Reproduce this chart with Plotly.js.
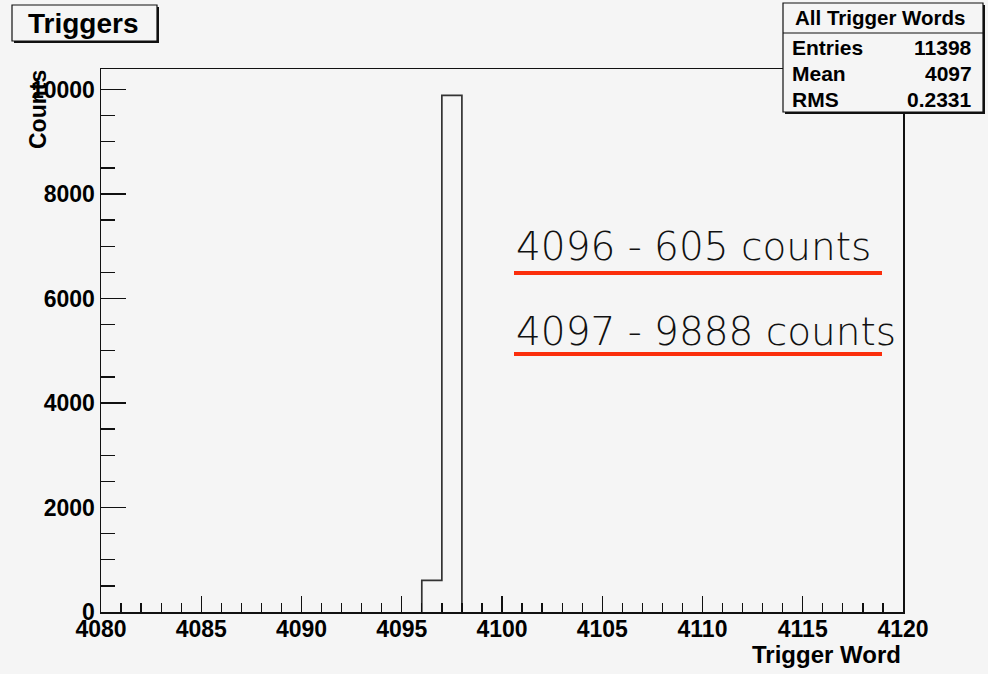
<!DOCTYPE html>
<html>
<head>
<meta charset="utf-8">
<script src="https://cdn.plot.ly/plotly-3.0.1.min.js"></script>
<style>
  html, body { margin: 0; padding: 0; background: #f5f5f5; }
  #chart { width: 988px; height: 674px; }
</style>
</head>
<body>
<div id="chart"></div>
<script>
// ---- data ----
const binLeft = [4096, 4097];          // left edges of the non-empty bins (bin width 1)
const counts = [605, 9888];            // counts in those bins
const xRange = [4080, 4120];
const statLabels = ["Entries", "Mean", "RMS"];
const statValues = ["11398", "4097", "0.2331"];
const histName = "All Trigger Words";
const titleText = "Triggers";
const xTitle = "Trigger Word";
const yTitle = "Counts";

// ---- geometry helpers (pixels -> paper) ----
const W = 988, H = 674;
const px = v => v / W;
const py = v => 1 - v / H;

// step outline of the histogram
const sx = [binLeft[0]], sy = [0];
for (let i = 0; i < binLeft.length; i++) { sx.push(binLeft[i] + 1); sy.push(counts[i]); }
sx.push(binLeft[binLeft.length - 1] + 1); sy.push(0);

const bg = '#f5f5f5';
const axisFont = {family: 'Liberation Sans, Arial, sans-serif', size: 23, color: '#000', weight: 'bold'};

const trace = {
  x: sx, y: sy, type: 'scatter', mode: 'lines',
  line: {shape: 'vh', color: '#333', width: 1.7},
  hoverinfo: 'skip', showlegend: false
};
// invisible helper so the label-only x axis is drawn
const labelAxisTrace = {
  x: xRange, y: [0, 0], xaxis: 'x2', yaxis: 'y', type: 'scatter', mode: 'lines',
  line: {width: 0, color: 'rgba(0,0,0,0)'}, opacity: 0, hoverinfo: 'skip', showlegend: false
};

const shapes = [
  // title box shadow + box
  {type: 'rect', xref: 'paper', yref: 'paper', x0: px(14), x1: px(159), y0: py(7), y1: py(43), fillcolor: '#111', line: {width: 0}, layer: 'above'},
  {type: 'rect', xref: 'paper', yref: 'paper', x0: px(12), x1: px(157), y0: py(5), y1: py(41), fillcolor: bg, line: {color: '#111', width: 1.2}, layer: 'above'},
  // stats box shadow + box
  {type: 'rect', xref: 'paper', yref: 'paper', x0: px(785), x1: px(985), y0: py(5), y1: py(114), fillcolor: '#111', line: {width: 0}, layer: 'above'},
  {type: 'rect', xref: 'paper', yref: 'paper', x0: px(783), x1: px(983), y0: py(3), y1: py(112), fillcolor: bg, line: {color: '#111', width: 1.2}, layer: 'above'},
  {type: 'line', xref: 'paper', yref: 'paper', x0: px(783), x1: px(983), y0: py(33), y1: py(33), line: {color: '#111', width: 1.2}, layer: 'above'},
  // red underlines
  {type: 'line', xref: 'paper', yref: 'paper', x0: px(514), x1: px(882), y0: py(273), y1: py(273), line: {color: '#fb2e0c', width: 4}, layer: 'above'},
  {type: 'line', xref: 'paper', yref: 'paper', x0: px(514), x1: px(882), y0: py(354), y1: py(354), line: {color: '#fb2e0c', width: 4}, layer: 'above'}
];

const boldFont = (s) => ({family: 'Liberation Sans, Arial, sans-serif', size: s, color: '#000', weight: 'bold'});
const noteFont = {family: 'DejaVu Sans, sans-serif', size: 39, color: '#111', weight: 200};

const annotations = [
  {xref: 'paper', yref: 'paper', x: px(83), y: py(23), text: titleText, showarrow: false, xanchor: 'center', yanchor: 'middle', font: boldFont(28)},
  {xref: 'paper', yref: 'paper', x: px(880), y: py(17), text: histName, showarrow: false, xanchor: 'center', yanchor: 'middle', font: boldFont(20.5)},
  {xref: 'paper', yref: 'paper', x: px(38), y: py(110), text: yTitle, textangle: -90, showarrow: false, xanchor: 'center', yanchor: 'middle', font: boldFont(23)},
  {xref: 'paper', yref: 'paper', x: px(903), y: py(654), text: xTitle, showarrow: false, xanchor: 'right', yanchor: 'middle', font: boldFont(24)},
  {xref: 'paper', yref: 'paper', x: px(514), y: py(247), text: binLeft[0] + ' - ' + counts[0] + ' counts', showarrow: false, xanchor: 'left', yanchor: 'middle', font: noteFont},
  {xref: 'paper', yref: 'paper', x: px(514), y: py(331), text: binLeft[1] + ' - ' + counts[1] + ' counts', showarrow: false, xanchor: 'left', yanchor: 'middle', font: noteFont}
];
const rowY = [47, 73, 99];
statLabels.forEach((lab, i) => {
  annotations.push({xref: 'paper', yref: 'paper', x: px(790), y: py(rowY[i]), text: lab, showarrow: false, xanchor: 'left', yanchor: 'middle', font: boldFont(21)});
  annotations.push({xref: 'paper', yref: 'paper', x: px(974), y: py(rowY[i]), text: statValues[i], showarrow: false, xanchor: 'right', yanchor: 'middle', font: boldFont(21)});
});

const layout = {
  width: W, height: H,
  margin: {l: 0, r: 0, t: 0, b: 0, pad: 0},
  paper_bgcolor: bg, plot_bgcolor: bg,
  showlegend: false,
  xaxis: {
    domain: [px(101), px(903)], range: xRange, automargin: false,
    showgrid: false, zeroline: false,
    showline: true, mirror: true, linecolor: '#111', linewidth: 1.5,
    ticks: 'inside', ticklen: 16, tickwidth: 1.3, tickcolor: '#111',
    tick0: 4080, dtick: 5,
    minor: {ticks: 'inside', ticklen: 9, tickwidth: 1.3, tickcolor: '#111', dtick: 1, showgrid: false},
    showticklabels: false
  },
  // label-only axis for the tick labels, placed so the labels sit just under the frame as in the reference
  xaxis2: {
    overlaying: 'x', range: xRange, anchor: 'free', position: py(613), side: 'bottom',
    domain: [px(101), px(903)], automargin: false,
    showgrid: false, zeroline: false, showline: false, ticks: '',
    tick0: 4080, dtick: 5, tickformat: 'd',
    tickfont: axisFont, ticklabelstandoff: 0
  },
  yaxis: {
    domain: [py(612), py(69)], range: [0, 10392], automargin: false,
    showgrid: false, zeroline: false,
    showline: true, mirror: true, linecolor: '#111', linewidth: 1.5,
    ticks: 'inside', ticklen: 25, tickwidth: 1.3, tickcolor: '#111',
    tick0: 0, dtick: 2000, tickformat: 'd',
    minor: {ticks: 'inside', ticklen: 14, tickwidth: 1.3, tickcolor: '#111', dtick: 500, showgrid: false},
    tickfont: axisFont, ticklabelstandoff: 0
  },
  shapes: shapes,
  annotations: annotations
};

Plotly.newPlot('chart', [trace, labelAxisTrace], layout, {staticPlot: true, displayModeBar: false});
</script>
</body>
</html>
